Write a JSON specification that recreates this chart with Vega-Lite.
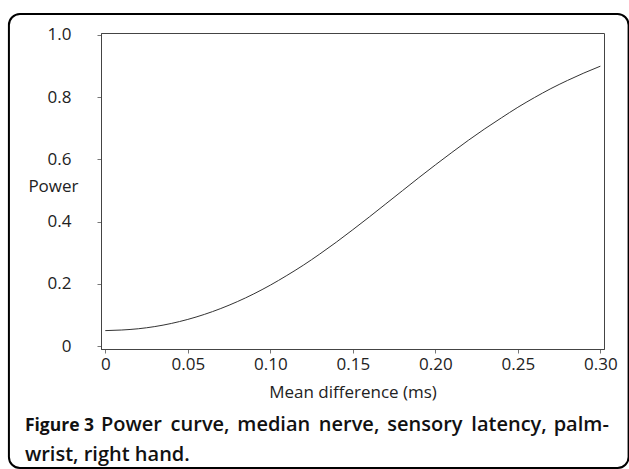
{
  "$schema": "https://vega.github.io/schema/vega-lite/v6.json",
  "width": 503,
  "height": 316,
  "padding": {"left": 7, "top": 12, "right": 0, "bottom": 0},
  "background": "white",
  "config": {
    "view": {"stroke": "#444", "strokeWidth": 1},
    "font": "Open Sans"
  },
  "layer": [
    {
      "data": {"values": [
        {"d": 0.00, "power": 0.050},
        {"d": 0.01, "power": 0.052},
        {"d": 0.02, "power": 0.056},
        {"d": 0.03, "power": 0.063},
        {"d": 0.04, "power": 0.073},
        {"d": 0.05, "power": 0.086},
        {"d": 0.06, "power": 0.102},
        {"d": 0.07, "power": 0.121},
        {"d": 0.08, "power": 0.143},
        {"d": 0.09, "power": 0.168},
        {"d": 0.10, "power": 0.196},
        {"d": 0.11, "power": 0.227},
        {"d": 0.12, "power": 0.260},
        {"d": 0.13, "power": 0.296},
        {"d": 0.14, "power": 0.334},
        {"d": 0.15, "power": 0.374},
        {"d": 0.16, "power": 0.415},
        {"d": 0.17, "power": 0.457},
        {"d": 0.18, "power": 0.499},
        {"d": 0.19, "power": 0.541},
        {"d": 0.20, "power": 0.582},
        {"d": 0.21, "power": 0.622},
        {"d": 0.22, "power": 0.661},
        {"d": 0.23, "power": 0.698},
        {"d": 0.24, "power": 0.733},
        {"d": 0.25, "power": 0.767},
        {"d": 0.26, "power": 0.798},
        {"d": 0.27, "power": 0.827},
        {"d": 0.28, "power": 0.853},
        {"d": 0.29, "power": 0.877},
        {"d": 0.30, "power": 0.899}
      ]},
      "mark": {"type": "line", "stroke": "#333", "strokeWidth": 1, "interpolate": "monotone"},
      "encoding": {
        "x": {
          "field": "d", "type": "quantitative",
          "scale": {"domain": [-0.0026, 0.3022], "nice": false, "zero": false},
          "axis": {
            "values": [0, 0.05, 0.1, 0.15, 0.2, 0.25, 0.3],
            "labelExpr": "datum.value == 0 ? '0' : format(datum.value, '.2f')",
            "grid": false,
            "domainColor": "#444",
            "tickColor": "#777",
            "tickSize": 4,
            "labelPadding": 3,
            "labelFont": "Open Sans",
            "labelFontSize": 17,
            "labelColor": "#222",
            "title": "Mean difference (ms)",
            "titleFont": "Open Sans",
            "titleFontSize": 17,
            "titleFontWeight": "normal",
            "titleColor": "#222",
            "titleBaseline": "top",
            "titleY": 35
          }
        },
        "y": {
          "field": "power", "type": "quantitative",
          "scale": {"domain": [-0.009, 1.0055], "nice": false, "zero": false},
          "axis": {
            "values": [0, 0.2, 0.4, 0.6, 0.8, 1.0],
            "labelExpr": "datum.value == 0 ? '0' : format(datum.value, '.1f')",
            "grid": false,
            "domainColor": "#444",
            "tickColor": "#777",
            "tickSize": 4,
            "labelPadding": 26,
            "labelFont": "Open Sans",
            "labelFontSize": 17,
            "labelColor": "#222",
            "title": "Power",
            "titleFont": "Open Sans",
            "titleFontSize": 17,
            "titleFontWeight": "normal",
            "titleColor": "#222",
            "titleAngle": 0,
            "titleAlign": "right",
            "titleBaseline": "middle",
            "titleX": -23,
            "titleY": 153
          }
        }
      }
    },
    {
      "data": {"values": [{}]},
      "mark": {"type": "rect", "fill": null, "fillOpacity": 0, "stroke": "#000", "strokeWidth": 2, "cornerRadius": 11},
      "encoding": {
        "x": {"datum": -0.0584, "type": "quantitative", "scale": {"domain": [-0.0026, 0.3022], "nice": false, "zero": false}},
        "x2": {"datum": 0.3171},
        "y": {"datum": 1.0665, "type": "quantitative", "scale": {"domain": [-0.009, 1.0055], "nice": false, "zero": false}},
        "y2": {"datum": -0.391}
      }
    },
    {
      "data": {"values": [{}]},
      "mark": {"type": "text", "text": "Figure 3", "font": "Open Sans", "fontSize": 17.5, "fontWeight": 700, "color": "#111", "align": "left", "baseline": "alphabetic"},
      "encoding": {
        "x": {"datum": -0.0487, "type": "quantitative", "scale": {"domain": [-0.0026, 0.3022], "nice": false, "zero": false}},
        "y": {"datum": -0.271, "type": "quantitative", "scale": {"domain": [-0.009, 1.0055], "nice": false, "zero": false}}
      }
    },
    {
      "data": {"values": [{}]},
      "mark": {"type": "text", "text": "Power", "font": "Open Sans", "fontSize": 20, "fontWeight": 600, "color": "#111", "align": "left", "baseline": "alphabetic"},
      "encoding": {
        "x": {"datum": -0.00261, "type": "quantitative", "scale": {"domain": [-0.0026, 0.3022], "nice": false, "zero": false}},
        "y": {"datum": -0.271, "type": "quantitative", "scale": {"domain": [-0.009, 1.0055], "nice": false, "zero": false}}
      }
    },
    {
      "data": {"values": [{}]},
      "mark": {"type": "text", "text": "curve,", "font": "Open Sans", "fontSize": 20, "fontWeight": 600, "color": "#111", "align": "left", "baseline": "alphabetic"},
      "encoding": {
        "x": {"datum": 0.03958, "type": "quantitative", "scale": {"domain": [-0.0026, 0.3022], "nice": false, "zero": false}},
        "y": {"datum": -0.271, "type": "quantitative", "scale": {"domain": [-0.009, 1.0055], "nice": false, "zero": false}}
      }
    },
    {
      "data": {"values": [{}]},
      "mark": {"type": "text", "text": "median", "font": "Open Sans", "fontSize": 20, "fontWeight": 600, "color": "#111", "align": "left", "baseline": "alphabetic"},
      "encoding": {
        "x": {"datum": 0.08, "type": "quantitative", "scale": {"domain": [-0.0026, 0.3022], "nice": false, "zero": false}},
        "y": {"datum": -0.271, "type": "quantitative", "scale": {"domain": [-0.009, 1.0055], "nice": false, "zero": false}}
      }
    },
    {
      "data": {"values": [{}]},
      "mark": {"type": "text", "text": "nerve,", "font": "Open Sans", "fontSize": 20, "fontWeight": 600, "color": "#111", "align": "left", "baseline": "alphabetic"},
      "encoding": {
        "x": {"datum": 0.12939, "type": "quantitative", "scale": {"domain": [-0.0026, 0.3022], "nice": false, "zero": false}},
        "y": {"datum": -0.271, "type": "quantitative", "scale": {"domain": [-0.009, 1.0055], "nice": false, "zero": false}}
      }
    },
    {
      "data": {"values": [{}]},
      "mark": {"type": "text", "text": "sensory", "font": "Open Sans", "fontSize": 20, "fontWeight": 600, "color": "#111", "align": "left", "baseline": "alphabetic"},
      "encoding": {
        "x": {"datum": 0.17085, "type": "quantitative", "scale": {"domain": [-0.0026, 0.3022], "nice": false, "zero": false}},
        "y": {"datum": -0.271, "type": "quantitative", "scale": {"domain": [-0.009, 1.0055], "nice": false, "zero": false}}
      }
    },
    {
      "data": {"values": [{}]},
      "mark": {"type": "text", "text": "latency,", "font": "Open Sans", "fontSize": 20, "fontWeight": 600, "color": "#111", "align": "left", "baseline": "alphabetic"},
      "encoding": {
        "x": {"datum": 0.22182, "type": "quantitative", "scale": {"domain": [-0.0026, 0.3022], "nice": false, "zero": false}},
        "y": {"datum": -0.271, "type": "quantitative", "scale": {"domain": [-0.009, 1.0055], "nice": false, "zero": false}}
      }
    },
    {
      "data": {"values": [{}]},
      "mark": {"type": "text", "text": "palm-", "font": "Open Sans", "fontSize": 20, "fontWeight": 600, "color": "#111", "align": "left", "baseline": "alphabetic"},
      "encoding": {
        "x": {"datum": 0.2717, "type": "quantitative", "scale": {"domain": [-0.0026, 0.3022], "nice": false, "zero": false}},
        "y": {"datum": -0.271, "type": "quantitative", "scale": {"domain": [-0.009, 1.0055], "nice": false, "zero": false}}
      }
    },
    {
      "data": {"values": [{}]},
      "mark": {"type": "text", "text": "wrist, right hand.", "font": "Open Sans", "fontSize": 20, "fontWeight": 600, "color": "#111", "align": "left", "baseline": "alphabetic"},
      "encoding": {
        "x": {"datum": -0.0487, "type": "quantitative", "scale": {"domain": [-0.0026, 0.3022], "nice": false, "zero": false}},
        "y": {"datum": -0.367, "type": "quantitative", "scale": {"domain": [-0.009, 1.0055], "nice": false, "zero": false}}
      }
    }
  ]
}
